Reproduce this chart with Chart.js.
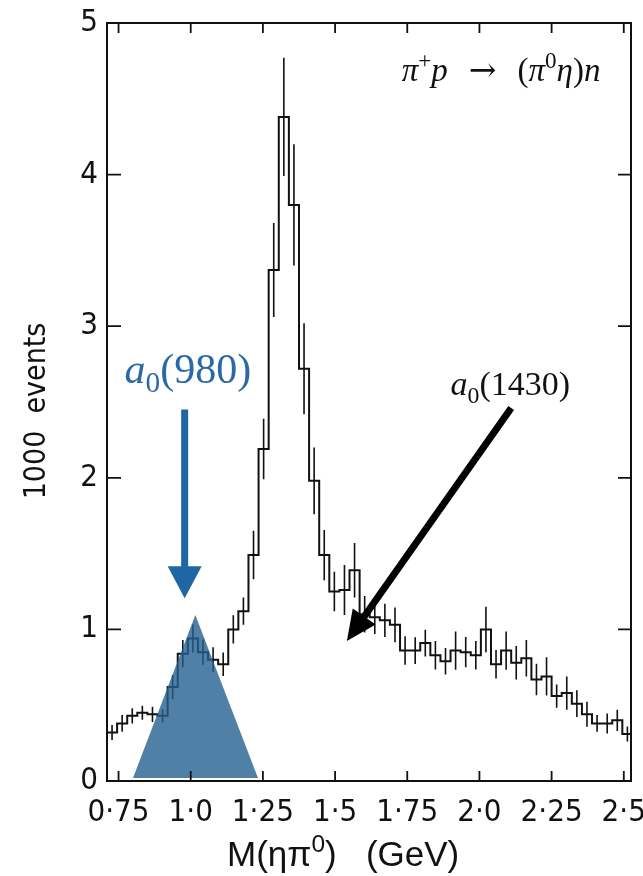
<!DOCTYPE html>
<html>
<head>
<meta charset="utf-8">
<script src="https://cdn.jsdelivr.net/npm/chart.js@4.4.0/dist/chart.umd.min.js"></script>
<style>
  html, body { margin: 0; padding: 0; background: #ffffff; }
  canvas { display: block; }
</style>
</head>
<body>
<canvas id="c" width="643" height="876"></canvas>
<script>
// M(eta pi0) spectrum: 35 MeV bins from 0.71 GeV, counts in units of 1000 events
const binStart = 0.71;
const binWidth = 0.035;
const counts = [
  0.32, 0.38, 0.43, 0.45, 0.44, 0.43,
  0.62, 0.84, 0.94, 0.85, 0.80, 0.77,
  1.00, 1.12, 1.49, 2.19, 3.37, 4.38,
  3.80, 2.72, 1.98, 1.49, 1.25, 1.26,
  1.39, 1.10, 1.08, 1.06, 1.03, 0.86,
  0.86, 0.91, 0.83, 0.79, 0.86, 0.85,
  0.83, 1.00, 0.77, 0.86, 0.78, 0.81,
  0.67, 0.69, 0.56, 0.58, 0.51, 0.44,
  0.38, 0.38, 0.40, 0.31
];
const errors = [
  0.050, 0.055, 0.050, 0.046, 0.050, 0.044,
  0.080, 0.090, 0.093, 0.083, 0.083, 0.077,
  0.093, 0.090, 0.160, 0.200, 0.310, 0.390,
  0.400, 0.300, 0.220, 0.165, 0.130, 0.165,
  0.180, 0.120, 0.110, 0.110, 0.115, 0.094,
  0.088, 0.088, 0.094, 0.088, 0.126, 0.100,
  0.094, 0.150, 0.094, 0.126, 0.110, 0.120,
  0.104, 0.126, 0.077, 0.110, 0.088, 0.082,
  0.055, 0.066, 0.070, 0.050
];
const xTickValues = [0.75, 1.0, 1.25, 1.5, 1.75, 2.0, 2.25, 2.5];
const xTickLabels = ['0·75', '1·0', '1·25', '1·5', '1·75', '2·0', '2·25', '2·5'];
const yTickValues = [0, 1, 2, 3, 4, 5];
// a0(980) line-shape marker: base left, apex, base right
const markerX = [0.80, 1.016, 1.233];
const markerY = [0.02, 1.095, 0.02];

// histogram outline: one point per lower bin edge plus the closing edge
const histPoints = counts.map((v, i) => ({ x: binStart + i * binWidth, y: v }));
histPoints.push({ x: binStart + counts.length * binWidth, y: counts[counts.length - 1] });

// vertical error bars at bin centres, separated by gaps
const errPoints = [];
counts.forEach((v, i) => {
  const c = binStart + (i + 0.5) * binWidth;
  errPoints.push({ x: c, y: v - errors[i] }, { x: c, y: v + errors[i] }, { x: c, y: null });
});

const markerPoints = markerX.map((x, i) => ({ x, y: markerY[i] }));

const SANS = '"Liberation Sans Narrow", "DejaVu Sans Condensed", "Liberation Sans", sans-serif';
const SANS_WIDE = '"Liberation Sans", "DejaVu Sans", sans-serif';
const SERIF = '"Liberation Serif", "DejaVu Serif", serif';
const INK = '#111111';
const BLUE = '#1f66a5';

function richText(ctx, parts, x, y, size, align, color, family) {
  const fontFor = p => {
    const s = (p.sub || p.sup) ? size * 0.7 : size;
    return (p.i ? 'italic ' : '') + s + 'px ' + (p.f || family);
  };
  let w = 0;
  parts.forEach(p => { ctx.font = fontFor(p); p.w = ctx.measureText(p.t).width; w += p.w; });
  let cx = align === 'center' ? x - w / 2 : align === 'right' ? x - w : x;
  ctx.fillStyle = color;
  ctx.textAlign = 'left';
  ctx.textBaseline = 'alphabetic';
  parts.forEach(p => {
    ctx.font = fontFor(p);
    const dy = p.sub ? size * 0.22 : p.sup ? -size * 0.4 : 0;
    ctx.fillText(p.t, cx, y + dy);
    cx += p.w;
  });
}

function arrow(ctx, x0, y0, x1, y1, width, headLen, headW, color) {
  const dx = x1 - x0, dy = y1 - y0;
  const len = Math.hypot(dx, dy);
  const ux = dx / len, uy = dy / len;
  const bx = x1 - ux * headLen, by = y1 - uy * headLen;
  ctx.strokeStyle = color;
  ctx.fillStyle = color;
  ctx.lineWidth = width;
  ctx.lineCap = 'butt';
  ctx.beginPath();
  ctx.moveTo(x0, y0);
  ctx.lineTo(bx + ux * 2, by + uy * 2);
  ctx.stroke();
  ctx.beginPath();
  ctx.moveTo(x1, y1);
  ctx.lineTo(bx - uy * headW / 2, by + ux * headW / 2);
  ctx.lineTo(bx + uy * headW / 2, by - ux * headW / 2);
  ctx.closePath();
  ctx.fill();
}

const framePlugin = {
  id: 'frame',
  afterDatasetsDraw(chart) {
    const { ctx, chartArea: a, scales: { x, y } } = chart;
    ctx.save();
    // closed frame
    ctx.strokeStyle = INK;
    ctx.lineWidth = 2;
    ctx.strokeRect(a.left, a.top, a.right - a.left, a.bottom - a.top);
    // inward tick marks on all four sides
    ctx.lineWidth = 1.8;
    ctx.beginPath();
    x.ticks.forEach(t => {
      const px = x.getPixelForValue(t.value);
      ctx.moveTo(px, a.bottom); ctx.lineTo(px, a.bottom - 10);
      ctx.moveTo(px, a.top); ctx.lineTo(px, a.top + 10);
    });
    y.ticks.forEach(t => {
      if (t.value <= 0 || t.value >= 5) return;
      const py = y.getPixelForValue(t.value);
      ctx.moveTo(a.left, py); ctx.lineTo(a.left + 14, py);
      ctx.moveTo(a.right, py); ctx.lineTo(a.right - 13, py);
    });
    ctx.stroke();

    // reaction label
    richText(ctx, [
      { t: 'π', i: true }, { t: '+', sup: true }, { t: 'p', i: true },
      { t: '  →  ', f: '"DejaVu Serif", serif' }, { t: '(' },
      { t: 'π', i: true }, { t: '0', sup: true }, { t: 'η', i: true }, { t: ')' }, { t: 'n', i: true }
    ], x.getPixelForValue(2.419), y.getPixelForValue(4.616), 33, 'right', INK, SERIF);

    // a0(980)
    arrow(ctx, x.getPixelForValue(0.979), y.getPixelForValue(2.451),
               x.getPixelForValue(0.979), y.getPixelForValue(1.205), 7, 32, 34, BLUE);
    richText(ctx, [{ t: 'a', i: true }, { t: '0', sub: true }, { t: '(980)' }],
      x.getPixelForValue(0.99), y.getPixelForValue(2.624), 42, 'center', '#2b69a5', SERIF);

    // a0(1430)
    arrow(ctx, x.getPixelForValue(2.110), y.getPixelForValue(2.461),
               x.getPixelForValue(1.541), y.getPixelForValue(0.923), 7, 30, 28, '#000000');
    richText(ctx, [{ t: 'a', i: true }, { t: '0', sub: true }, { t: '(1430)' }],
      x.getPixelForValue(2.107), y.getPixelForValue(2.545), 34, 'center', INK, SERIF);

    // axis titles
    richText(ctx, [{ t: 'M(ηπ' }, { t: '0', sup: true }, { t: ')   (GeV)' }],
      227, 866, 35, 'left', INK, SANS_WIDE);
    ctx.save();
    ctx.translate(37, 411);
    ctx.rotate(-Math.PI / 2);
    ctx.font = '30px ' + SANS;
    ctx.fillStyle = INK;
    ctx.textAlign = 'center';
    ctx.textBaseline = 'middle';
    ctx.fillText('1000  events', 0, 0);
    ctx.restore();
    ctx.restore();
  }
};

new Chart(document.getElementById('c'), {
  type: 'line',
  data: {
    datasets: [
      { data: histPoints, stepped: 'before', borderColor: INK, borderWidth: 2,
        pointRadius: 0, fill: false, order: 3 },
      { data: errPoints, borderColor: INK, borderWidth: 1.6, pointRadius: 0,
        spanGaps: false, fill: false, order: 2 },
      { data: markerPoints, borderWidth: 0, borderColor: 'rgba(0,0,0,0)',
        backgroundColor: 'rgba(36,96,142,0.80)', fill: { value: 0.02 },
        pointRadius: 0, order: 1 }
    ]
  },
  options: {
    responsive: false,
    animation: false,
    layout: { padding: { left: 0, right: 12, top: 23, bottom: 0 } },
    plugins: { legend: { display: false }, tooltip: { enabled: false } },
    scales: {
      x: {
        type: 'linear', min: 0.71, max: 2.525,
        grid: { display: false, drawTicks: false },
        border: { display: true, color: INK, width: 2 },
        afterBuildTicks: s => { s.ticks = xTickValues.map(v => ({ value: v })); },
        afterFit: s => { s.height = 95; s.paddingLeft = 0; s.paddingRight = 0; },
        ticks: {
          autoSkip: false, maxRotation: 0, padding: 13, color: INK,
          font: { family: SANS, size: 31 },
          callback: v => {
            const i = xTickValues.findIndex(t => Math.abs(t - v) < 1e-9);
            return i >= 0 ? xTickLabels[i] : '';
          }
        }
      },
      y: {
        type: 'linear', min: 0, max: 5,
        grid: { display: false, drawTicks: false },
        border: { display: true, color: INK, width: 2 },
        afterBuildTicks: s => { s.ticks = yTickValues.map(v => ({ value: v })); },
        afterFit: s => { s.width = 107; s.paddingTop = 0; s.paddingBottom = 0; },
        ticks: {
          padding: 9, color: INK,
          font: { family: SANS, size: 31 },
          callback: v => String(v)
        }
      }
    }
  },
  plugins: [framePlugin]
});
</script>
</body>
</html>
